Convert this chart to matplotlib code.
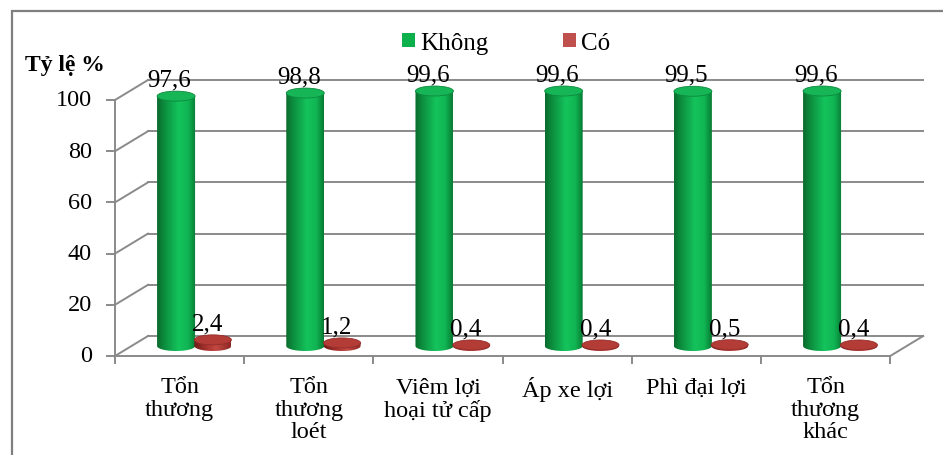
import numpy as np
import matplotlib.pyplot as plt
from matplotlib.patches import Ellipse, Polygon, Rectangle, Patch
from matplotlib.colors import LinearSegmentedColormap

plt.rcParams['font.family'] = ['Liberation Serif', 'DejaVu Serif']

categories = ["Tổn\nthương", "Tổn\nthương\nloét", "Viêm lợi\nhoại tử cấp",
              "Áp xe lợi", "Phì đại lợi", "Tổn\nthương\nkhác"]
khong = [97.6, 98.8, 99.6, 99.6, 99.5, 99.6]
co = [2.4, 1.2, 0.4, 0.4, 0.5, 0.4]
y_ticks = [0, 20, 40, 60, 80, 100]
series_names = ["Không", "Có"]

W, H = 943, 456
PX_X = 129.2   # pixels per category
PX_Y = 2.56    # pixels per percent
X0, Y0 = 115, 357  # pixel position of the front axis origin

# oblique depth of the 3d box, in data units
DX = 33 / PX_X
DY = 20 / PX_Y

green_cmap = LinearSegmentedColormap.from_list(
    "g", [(0, "#0a6a2c"), (0.18, "#0c8c3d"), (0.55, "#14c35c"), (0.8, "#10b553"), (1, "#077b33")])
red_cmap = LinearSegmentedColormap.from_list(
    "r", [(0, "#6e1b18"), (0.3, "#a3302c"), (0.6, "#c24843"), (1, "#8d2724")])

fig = plt.figure(figsize=(W / 100, H / 100), dpi=100)
ax = fig.add_axes([0, 0, 1, 1])
ax.axis("off")

xmin = -X0 / PX_X
ymin = -(H - Y0) / PX_Y
xlim = (xmin, xmin + W / PX_X)
ylim = (ymin, ymin + H / PX_Y)

grid_kw = dict(color="#8a8a8a", lw=1.4, zorder=1)
n = len(categories)

# walls and floor
for v in y_ticks:
    ax.plot([0, DX], [v, v + DY], **grid_kw)
    ax.plot([DX, n + DX], [v + DY, v + DY], **grid_kw)
    ax.plot([-8 / PX_X, 0], [v, v], **grid_kw)
    ax.text(-23 / PX_X, v, str(v), ha="right", va="center", fontsize=17.5)
ax.plot([0, 0], [0, y_ticks[-1]], **grid_kw)
ax.plot([0, n], [0, 0], **grid_kw)
ax.plot([n, n + DX], [0, DY], **grid_kw)
for i in range(n + 1):
    ax.plot([i, i], [0, -7 / PX_Y], **grid_kw)
for i, lab in enumerate(categories):
    ax.text(i + 0.5, -8, lab, ha="center", va="top", fontsize=17.5, linespacing=1.08)


def cylinder(cx, base, value, w, h, cmap, top_color, edge):
    top = base + value
    t = np.linspace(np.pi, 2 * np.pi, 40)
    arc = np.column_stack([cx + w / 2 * np.cos(t), base + h / 2 * np.sin(t)])
    outline = np.vstack([arc, [[cx + w / 2, top], [cx - w / 2, top]]])
    body = Polygon(outline, closed=True, facecolor="none", edgecolor="none", zorder=3)
    ax.add_patch(body)
    grad = np.linspace(0, 1, 256).reshape(1, -1)
    im = ax.imshow(grad, cmap=cmap, extent=[cx - w / 2, cx + w / 2, base - h / 2, top],
                   aspect="auto", zorder=3, interpolation="bilinear")
    im.set_clip_path(body)
    ax.add_patch(Ellipse((cx, top), w, h, facecolor=top_color, edgecolor=edge,
                         lw=0.6, zorder=4))
    return top


gw, gh = 38 / PX_X, 10 / PX_Y
rw, rh = 37 / PX_X, 10 / PX_Y
base = DY / 2
for i in range(n):
    gx = i + 0.345 + DX / 2
    rx = i + 0.63 + DX / 2
    gt = cylinder(gx, base, khong[i], gw, gh, green_cmap, "#16b556", "#0c8a3e")
    rt = cylinder(rx, base, co[i], rw, rh, red_cmap, "#b43c37", "#962d29")
    ax.text(gx - 0.05, gt + gh / 2 + 0.2, f"{khong[i]:.1f}".replace(".", ","),
            ha="center", va="bottom", fontsize=18, zorder=6)
    ax.text(rx - 0.04, rt + rh / 2 + 0.1, f"{co[i]:.1f}".replace(".", ","),
            ha="center", va="bottom", fontsize=18, zorder=6)

ax.set_xlim(*xlim)
ax.set_ylim(*ylim)

fig.text(25 / W, 1 - 65 / H, "Tỷ lệ %", fontsize=17, fontweight="bold",
         ha="left", va="center")

handles = [Patch(facecolor="#0db14b"), Patch(facecolor="#c0504d")]
fig.legend(handles, series_names, loc="center", bbox_to_anchor=(506 / W, 1 - 44 / H),
           ncol=2, frameon=False, fontsize=18, handlelength=0.5, handleheight=0.5,
           handletextpad=0.2, columnspacing=3.0)

fig.patches.append(Rectangle((12 / W, -0.1), 1.2, 1.1 - 12 / H, transform=fig.transFigure,
                             fill=False, edgecolor="#7f7f7f", lw=1.6))

fig.savefig("out.png", dpi=100)
